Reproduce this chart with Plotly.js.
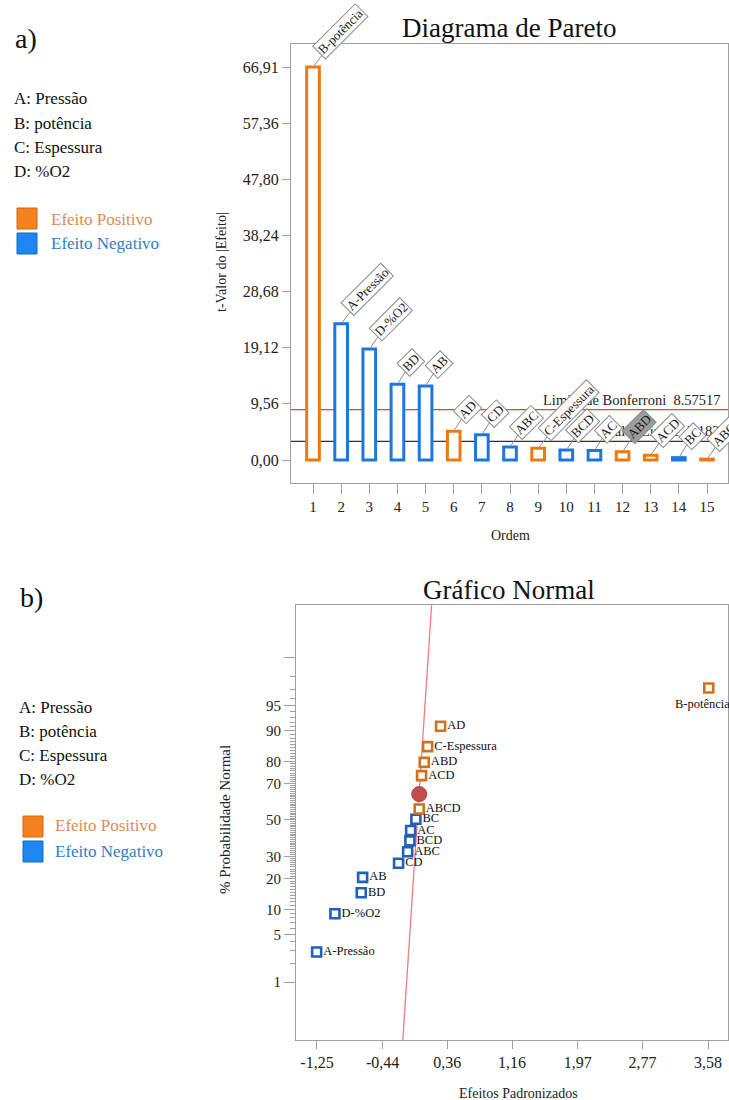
<!DOCTYPE html>
<html><head><meta charset="utf-8">
<script src="https://cdn.plot.ly/plotly-3.0.1.min.js"></script>
<style>html,body{margin:0;padding:0;background:#fff}</style>
</head><body><div id="chart" style="width:729px;height:1100px"></div>
<script>
// ---------- Pareto data ----------
const paretoOrder = [1,2,3,4,5,6,7,8,9,10,11,12,13,14,15];
const paretoTerms = ['B-potência','A-Pressão','D-%O2','BD','AB','AD','CD','ABC','C-Espessura','BCD','AC','ABD','ACD','BC','ABCD'];
const paretoTValues = [66.91,23.2,18.9,12.9,12.6,4.9,4.3,2.2,2.0,1.7,1.6,1.4,0.8,0.4,0.15];
const paretoSigns = ['+','-','-','-','-','+','-','-','+','-','-','+','+','-','+'];
const paretoHighlighted = ['ABD'];
const bonferroniLimit = 8.57517;
const tValueLimit = 3.18245;
const paretoYTickVals = [0,9.56,19.12,28.68,38.24,47.80,57.36,66.91];
const paretoYTickText = ['0,00','9,56','19,12','28,68','38,24','47,80','57,36','66,91'];

// ---------- Normal plot data ----------
const normalTerms = ['A-Pressão','D-%O2','BD','AB','CD','ABC','BCD','AC','BC','ABCD','ACD','ABD','C-Espessura','AD','B-potência'];
const normalEffects = [-1.254,-1.028,-0.703,-0.686,-0.242,-0.13,-0.102,-0.093,-0.028,0.013,0.042,0.075,0.117,0.277,3.59];
const normalProb = [2.9,8.9,14.8,20.5,26.7,32.4,38.2,44.0,50.4,56.3,73.8,79.6,85.4,91.1,97.1];
const normalSigns = ['-','-','-','-','-','-','-','-','-','+','+','+','+','+','+'];
const errorEffect = [0.013];
const errorProb = [64.5];
const fitLineEffects = [-0.19, 0.166];
const fitLineProb = [0.079, 99.9];
const probTickVals = [1,5,10,20,30,50,70,80,90,95,99];
const probTickText = ['1','5','10','20','30','50','70','80','90','95',''];
const probMinor = [2,3,4,6,7,8,9,11,12,13,14,15,16,17,18,19,21,22,23,24,25,26,27,28,29,31,32,33,34,35,36,37,38,39,40,41,42,43,44,45,46,47,48,49,51,52,53,54,55,56,57,58,59,60,61,62,63,64,65,66,67,68,69,71,72,73,74,75,76,77,78,79,81,82,83,84,85,86,87,88,89,91,92,93,94,96,97,98];
const effectTickVals = [-1.25,-0.44,0.36,1.16,1.97,2.77,3.58];
const effectTickText = ['-1,25','-0,44','0,36','1,16','1,97','2,77','3,58'];

const factorLegend = ['A: Pressão','B: potência','C: Espessura','D: %O2'];

// ---------- helpers ----------
function invNorm(p){
  const a=[-3.969683028665376e+01,2.209460984245205e+02,-2.759285104469687e+02,1.383577518672690e+02,-3.066479806614716e+01,2.506628277459239e+00];
  const b=[-5.447609879822406e+01,1.615858368580409e+02,-1.556989798598866e+02,6.680131188771972e+01,-1.328068155288572e+01];
  const c=[-7.784894002430293e-03,-3.223964580411365e-01,-2.400758277161838e+00,-2.549732539343734e+00,4.374664141464968e+00,2.938163982698783e+00];
  const d=[7.784695709041462e-03,3.224671290700398e-01,2.445134137142996e+00,3.754408661907416e+00];
  const pl=0.02425, ph=1-pl; let q,r;
  if(p<pl){q=Math.sqrt(-2*Math.log(p));return (((((c[0]*q+c[1])*q+c[2])*q+c[3])*q+c[4])*q+c[5])/((((d[0]*q+d[1])*q+d[2])*q+d[3])*q+1);}
  if(p<=ph){q=p-0.5;r=q*q;return (((((a[0]*r+a[1])*r+a[2])*r+a[3])*r+a[4])*r+a[5])*q/(((((b[0]*r+b[1])*r+b[2])*r+b[3])*r+b[4])*r+1);}
  q=Math.sqrt(-2*Math.log(1-p));return -(((((c[0]*q+c[1])*q+c[2])*q+c[3])*q+c[4])*q+c[5])/((((d[0]*q+d[1])*q+d[2])*q+d[3])*q+1);
}
const zOf = pct => invNorm(pct/100);
const W=729, H=1100;
const px = x => x/W, py = y => 1 - y/H;
const FONT = '"Liberation Serif", "Times New Roman", serif';
const ORANGE = '#EC7A12', BLUE = '#1C78DC';
const ORANGE2 = '#D2711C', BLUE2 = '#1F60B8';
const LABEL_SIZE = 13;

const ctx = document.createElement('canvas').getContext('2d');
ctx.font = LABEL_SIZE + 'px "Liberation Serif"';

// ---------- traces ----------
const traces = [];
traces.push({
  type:'bar', x:paretoOrder, y:paretoTValues, width:0.45,
  marker:{color:'#ffffff', line:{color:paretoSigns.map(s=>s==='+'?ORANGE:BLUE), width:3}},
  xaxis:'x', yaxis:'y', hoverinfo:'skip', showlegend:false
});
traces.push({
  type:'scatter', mode:'lines', x:fitLineEffects, y:fitLineProb.map(zOf),
  line:{color:'#F07C7C', width:1.3}, xaxis:'x2', yaxis:'y2', showlegend:false, hoverinfo:'skip'
});
traces.push({
  type:'scatter', mode:'markers', x:errorEffect, y:errorProb.map(zOf),
  marker:{symbol:'circle', size:15, color:'#C0504D', line:{color:'#A8403D', width:1}},
  xaxis:'x2', yaxis:'y2', showlegend:false, hoverinfo:'skip'
});
const bottomLabel = 'B-potência';
traces.push({
  type:'scatter', mode:'markers+text', x:normalEffects, y:normalProb.map(zOf),
  text:normalTerms.map(t=>t===bottomLabel?'':t),
  textposition:'middle right',
  textfont:{family:FONT, size:12.5, color:'#111'},
  marker:{symbol:'square', size:9, color:'#ffffff', line:{color:normalSigns.map(s=>s==='+'?ORANGE2:BLUE2), width:2.6}},
  xaxis:'x2', yaxis:'y2', showlegend:false, hoverinfo:'skip', cliponaxis:false
});

// ---------- annotations ----------
const ann = [];
function txt(text, x, y, size, color, extra){
  ann.push(Object.assign({text:text, xref:'paper', yref:'paper', x:px(x), y:py(y), showarrow:false,
    xanchor:'left', yanchor:'middle', font:{family:FONT, size:size, color:color||'#111'}}, extra||{}));
}
// left panels
txt('a)', 13, 38, 28);
txt('b)', 18, 597, 28);
factorLegend.forEach((t,i)=>{ txt(t, 12, 99+24*i, 17); txt(t, 17, 707+24.3*i, 17); });
txt('Efeito Positivo', 49, 219, 17, '#E08C50');
txt('Efeito Negativo', 49, 244, 17, '#2F7EC2');
txt('Efeito Positivo', 53, 825, 17, '#E08C50');
txt('Efeito Negativo', 53, 851, 17, '#2F7EC2');
// titles
txt('Diagrama de Pareto', 509, 28, 27, '#111', {xanchor:'center'});
txt('Gráfico Normal', 509, 590, 27, '#111', {xanchor:'center'});
txt('Ordem', 510, 535, 14, '#222', {xanchor:'center'});
txt('Efeitos Padronizados', 518, 1093, 14, '#222', {xanchor:'center'});
txt('t-Valor do |Efeito|', 221, 262, 14, '#222', {xanchor:'center', textangle:-90});
txt('% Probabilidade Normal', 225, 820, 15, '#222', {xanchor:'center', textangle:-90});
// limit line labels
txt('Limite de Bonferroni  ' + bonferroniLimit, 723, 400, 14.5, '#222', {xanchor:'right'});
txt('t-Valor Limite  ' + tValueLimit, 736, 431, 14.5, '#222', {xanchor:'right'});

// pareto labels
paretoTerms.forEach((t,i)=>{
  const w = ctx.measureText(t).width + 4;
  const h = 19;
  const E = 0.7071*(w+h);
  const hl = paretoHighlighted.includes(t);
  ann.push({text:t, x:paretoOrder[i], y:paretoTValues[i], xref:'x', yref:'y',
    textangle:-45, font:{family:FONT, size:LABEL_SIZE, color:'#1a1a1a'},
    bgcolor: hl ? '#9c9c9c' : '#ffffff', bordercolor:'#8a8a8a', borderwidth:1, borderpad:1,
    showarrow:true, arrowhead:0, arrowwidth:1, arrowcolor:'#8a8a8a', standoff:2,
    ax: E/2 - 1, ay: -(E/2 + 7)});
});
// label under the far-right normal point
const bi = normalTerms.indexOf(bottomLabel);
ann.push({text:bottomLabel, x:normalEffects[bi], y:zOf(normalProb[bi]), xref:'x2', yref:'y2',
  showarrow:false, xanchor:'center', yanchor:'top', xshift:-6, yshift:-7,
  font:{family:FONT, size:12.5, color:'#111'}});

// ---------- shapes ----------
const shapes = [
  {type:'line', xref:'x domain', yref:'y', x0:0, x1:1, y0:bonferroniLimit, y1:bonferroniLimit, line:{color:'#E8403C', width:1.3}, layer:'below'},
  {type:'line', xref:'x domain', yref:'y', x0:0, x1:1, y0:tValueLimit, y1:tValueLimit, line:{color:'#333333', width:1.3}, layer:'below'},
  {type:'rect', xref:'paper', yref:'paper', x0:px(17), x1:px(37), y0:py(229), y1:py(208), fillcolor:'#F5821F', line:{color:'#C8681A', width:1}},
  {type:'rect', xref:'paper', yref:'paper', x0:px(17), x1:px(37), y0:py(254), y1:py(233), fillcolor:'#1E86F0', line:{color:'#1868C0', width:1}},
  {type:'rect', xref:'paper', yref:'paper', x0:px(23), x1:px(43), y0:py(837), y1:py(816), fillcolor:'#F5821F', line:{color:'#C8681A', width:1}},
  {type:'rect', xref:'paper', yref:'paper', x0:px(23), x1:px(43), y0:py(862), y1:py(841), fillcolor:'#1E86F0', line:{color:'#1868C0', width:1}}
];

const axCommon = {showline:true, linecolor:'#a0a0a0', linewidth:1, mirror:true, showgrid:false, zeroline:false,
  ticks:'outside', tickcolor:'#a0a0a0', tickwidth:1, tickfont:{family:FONT, size:15, color:'#222'}};

const layout = {
  width:W, height:H, margin:{l:0,r:0,t:0,b:0}, paper_bgcolor:'#fff', plot_bgcolor:'#fff',
  showlegend:false, font:{family:FONT},
  xaxis: Object.assign({}, axCommon, {domain:[px(291), px(728)], range:[0.218,15.746], tickmode:'array', tickvals:paretoOrder, ticklen:10, anchor:'y'}),
  yaxis: Object.assign({}, axCommon, {domain:[py(483), py(44)], range:[-3.916,70.83], tickmode:'array', tickvals:paretoYTickVals, ticktext:paretoYTickText, ticklen:8, tickfont:{family:FONT, size:16, color:'#222'}, anchor:'x'}),
  xaxis2: Object.assign({}, axCommon, {domain:[px(296), px(728)], range:[-1.509,3.827], tickmode:'array', tickvals:effectTickVals, ticktext:effectTickText, ticklen:8, tickfont:{family:FONT, size:16, color:'#222'}, anchor:'y2'}),
  yaxis2: Object.assign({}, axCommon, {domain:[py(1040), py(605)], range:[-3.159,3.087], tickmode:'array', tickvals:probTickVals.map(zOf), ticktext:probTickText, ticklen:11,
    minor:{tickmode:'array', tickvals:probMinor.map(zOf), ticklen:5, tickcolor:'#a0a0a0', ticks:'outside'}, anchor:'x2'}),
  annotations: ann, shapes: shapes
};

Plotly.newPlot('chart', traces, layout, {staticPlot:true});
</script></body></html>
